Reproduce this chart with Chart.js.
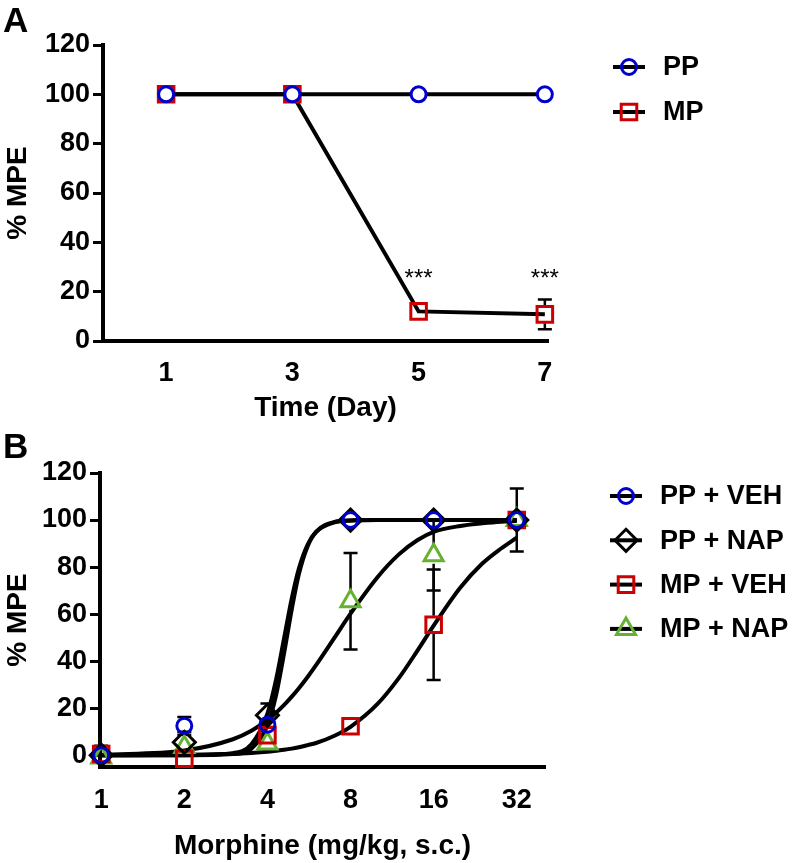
<!DOCTYPE html>
<html>
<head>
<meta charset="utf-8">
<script src="https://cdn.jsdelivr.net/npm/chart.js@4.4.0/dist/chart.umd.min.js"></script>
<style>
  body { margin: 0; background: #fff; }
  .panel { position: absolute; left: 0; width: 793px; }
</style>
</head>
<body>
<div class="panel" style="top:0;height:430px"><canvas id="chartA" width="793" height="430"></canvas></div>
<div class="panel" style="top:430px;height:433px"><canvas id="chartB" width="793" height="433"></canvas></div>
<script>
// Panel A: %MPE over days
const days = [1, 3, 5, 7];
const ppMpe = [100, 100, 100, 100];
const ppErr = [0, 0, 0, 0];
const mpMpe = [100, 100, 12, 10.8];
const mpErr = [0, 0, 0, 6];
const dayTicks = [1, 3, 5, 7];
const sigDays = [5, 7];

// Panel B: dose response
const doses = [1, 2, 4, 8, 16, 32];
const ppVeh = [0, 12.5, 13, 100, 100, 100];
const ppVehErr = [0, 3.8, 0, 0, 0, 0];
const ppNap = [0, 5.5, 17, 100, 100, 100];
const ppNapErr = [0, 4.5, 5, 0, 0, 0];
const mpVeh = [0.5, -1.5, 8.5, 12.3, 55.5, 100];
const mpVehErr = [3.5, 0, 0, 0, 23.5, 13.4];
const mpNap = [-1, 3.5, 5, 65.5, 85, 100];
const mpNapErr = [0, 0, 0, 20.5, 15, 0];
const doseTicks = [1, 2, 4, 8, 16, 32];

// fitted curves
const curveDose = [1, 2, 3, 3.5, 4, 4.3, 4.6, 4.9, 5.2, 5.6, 6, 7, 8, 10, 12, 14, 16, 20, 24, 28, 32];
const ppVehFit = [0, 0, 0.5, 2.8, 12.6, 25.6, 43.6, 62, 77, 89, 95, 99.2, 99.8, 100, 100, 100, 100, 100, 100, 100, 100];
const ppNapFit = [0, 0, 0.9, 4.7, 17.7, 32.2, 50, 66.7, 79.4, 89.7, 94.9, 99, 99.8, 100, 100, 100, 100, 100, 100, 100, 100];
const mpVehFit = [0, 0.2, 0.6, 1.0, 1.5, 1.9, 2.3, 2.8, 3.4, 4.3, 5.2, 8.3, 12.1, 21.7, 33, 44.6, 55.1, 71.3, 81.5, 87.8, 92.5];
const mpNapFit = [0.2, 2.0, 6.8, 10.4, 15, 18.1, 21.4, 24.9, 28.5, 33.4, 38.3, 50, 60.2, 75.6, 85.5, 91.5, 95, 97.5, 98.6, 99.3, 99.6];

const mpeTicks = [0, 20, 40, 60, 80, 100, 120];

const FONT = "'Liberation Sans', Arial, Helvetica, sans-serif";
const BLUE = '#0000cc', RED = '#cc0000', GREEN = '#66b032', BLACK = '#000';

Chart.defaults.font.family = FONT;
Chart.defaults.color = BLACK;
Chart.defaults.animation = false;

function pts(xs, ys) {
    return xs.map((x, i) => ({ x: x, y: ys[i] }));
}

function markerPath(ctx, style, x, y, r) {
    ctx.beginPath();
    if (style === 'circle') {
        ctx.arc(x, y, r, 0, Math.PI * 2);
    } else if (style === 'rect') {
        const s = r * Math.SQRT1_2;
        ctx.rect(x - s, y - s, 2 * s, 2 * s);
    } else if (style === 'rectRot') {
        ctx.moveTo(x - r, y); ctx.lineTo(x, y - r);
        ctx.lineTo(x + r, y); ctx.lineTo(x, y + r);
        ctx.closePath();
    } else if (style === 'triangle') {
        for (let k = 0; k < 3; k++) {
            const a = k * 2 * Math.PI / 3;
            const px = x + Math.sin(a) * r, py = y - Math.cos(a) * r;
            if (k === 0) ctx.moveTo(px, py); else ctx.lineTo(px, py);
        }
        ctx.closePath();
    }
}

// vertical SEM bars, stopped at the marker edge like GraphPad does
const errorBars = {
    id: 'errorBars',
    beforeDatasetsDraw(chart) {
        const ctx = chart.ctx, yScale = chart.scales.y;
        chart.data.datasets.forEach((ds, i) => {
            if (!ds.errors) return;
            const meta = chart.getDatasetMeta(i);
            ctx.save();
            ctx.strokeStyle = BLACK;
            ctx.lineWidth = 2.5;
            meta.data.forEach((pt, j) => {
                const e = ds.errors[j];
                if (!e) return;
                const v = ds.data[j].y;
                const top = yScale.getPixelForValue(v + e);
                const bot = yScale.getPixelForValue(v - e);
                const g = ds.errGap || 0;
                ctx.beginPath();
                if (top < pt.y - g) {
                    ctx.moveTo(pt.x, top); ctx.lineTo(pt.x, pt.y - g);
                }
                if (bot > pt.y + g) {
                    ctx.moveTo(pt.x, pt.y + g); ctx.lineTo(pt.x, bot);
                }
                ctx.moveTo(pt.x - 7, top); ctx.lineTo(pt.x + 7, top);
                ctx.moveTo(pt.x - 7, bot); ctx.lineTo(pt.x + 7, bot);
                ctx.stroke();
            });
            ctx.restore();
        });
    }
};

const sideLegend = {
    id: 'sideLegend',
    afterDraw(chart, args, opts) {
        const ctx = chart.ctx, area = chart.chartArea;
        let row = 0;
        chart.data.datasets.forEach(ds => {
            if (!ds.inLegend) return;
            const y = area.top + opts.top + row * opts.gap;
            const x0 = area.right + opts.lineStart;
            ctx.save();
            ctx.strokeStyle = BLACK;
            ctx.lineWidth = 4;
            ctx.beginPath();
            ctx.moveTo(x0, y); ctx.lineTo(x0 + 32, y);
            ctx.stroke();
            markerPath(ctx, ds.pointStyle, x0 + 16, y, ds.pointRadius);
            ctx.strokeStyle = ds.pointBorderColor;
            ctx.lineWidth = ds.pointBorderWidth;
            ctx.stroke();
            ctx.fillStyle = BLACK;
            ctx.font = 'bold 27px ' + FONT;
            ctx.textAlign = 'left';
            ctx.textBaseline = 'middle';
            ctx.fillText(ds.label, x0 + 50, y + 1);
            ctx.restore();
            row++;
        });
    }
};

const panelLabel = {
    id: 'panelLabel',
    afterDraw(chart, args, opts) {
        const ctx = chart.ctx;
        ctx.save();
        ctx.fillStyle = BLACK;
        ctx.font = 'bold 35px ' + FONT;
        ctx.textAlign = 'left';
        ctx.textBaseline = 'alphabetic';
        ctx.fillText(opts.text, 3, opts.baseline);
        ctx.restore();
    }
};

const stars = {
    id: 'stars',
    afterDatasetsDraw(chart, args, opts) {
        const ctx = chart.ctx;
        ctx.save();
        ctx.fillStyle = BLACK;
        ctx.font = '24px ' + FONT;
        ctx.textAlign = 'center';
        ctx.textBaseline = 'alphabetic';
        opts.at.forEach(d => {
            ctx.fillText(opts.text, chart.scales.x.getPixelForValue(d), chart.scales.y.getPixelForValue(opts.value));
        });
        ctx.restore();
    }
};

function yAxis(min, width) {
    return {
        type: 'linear',
        min: min,
        max: 120,
        afterBuildTicks: s => { s.ticks = mpeTicks.map(v => ({ value: v })); },
        afterFit: s => { s.width = width; },
        grid: { display: true, drawOnChartArea: false, drawTicks: true, tickLength: 10, tickWidth: 3, tickColor: BLACK },
        border: { display: true, width: 4, color: BLACK },
        ticks: { font: { size: 27, weight: 'bold' }, padding: 3, color: BLACK },
        title: { display: true, text: '% MPE', font: { size: 28, weight: 'bold' }, padding: { top: 1, bottom: 0 }, color: BLACK }
    };
}

function pointSet(label, xs, ys, errs, style, radius, color, fill, gap) {
    return {
        label: label,
        data: pts(xs, ys),
        errors: errs,
        errGap: gap,
        inLegend: true,
        showLine: false,
        pointStyle: style,
        pointRadius: radius,
        pointBorderWidth: 3,
        pointBorderColor: color,
        pointBackgroundColor: fill,
        clip: false
    };
}

function curveSet(ys) {
    return {
        data: pts(curveDose, ys),
        showLine: true,
        borderColor: BLACK,
        borderWidth: 4,
        pointRadius: 0,
        cubicInterpolationMode: 'monotone',
        borderJoinStyle: 'round',
        clip: false
    };
}

const ppA = pointSet('PP', days, ppMpe, ppErr, 'circle', 7.5, BLUE, '#fff', 9);
ppA.showLine = true; ppA.borderColor = BLACK; ppA.borderWidth = 4;
const mpA = pointSet('MP', days, mpMpe, mpErr, 'rect', 11, RED, 'rgba(0,0,0,0)', 9);
mpA.showLine = true; mpA.borderColor = BLACK; mpA.borderWidth = 4;

new Chart(document.getElementById('chartA'), {
    type: 'scatter',
    data: { datasets: [ppA, mpA] },
    plugins: [errorBars, sideLegend, panelLabel, stars],
    options: {
        responsive: false,
        events: [],
        layout: { padding: { left: 0, top: 45, right: 245, bottom: 0 } },
        scales: {
            x: {
                type: 'linear',
                min: 0,
                max: 7.05,
                afterBuildTicks: s => { s.ticks = dayTicks.map(v => ({ value: v })); },
                afterFit: s => { s.height = 89; },
                grid: { display: false },
                border: { display: true, width: 4, color: BLACK },
                ticks: { font: { size: 27, weight: 'bold' }, padding: 8, color: BLACK, autoSkip: false },
                title: { display: true, text: 'Time (Day)', font: { size: 28, weight: 'bold' }, padding: { top: 0, bottom: 5 }, color: BLACK }
            },
            y: yAxis(0, 103)
        },
        plugins: {
            legend: { display: false },
            tooltip: { enabled: false },
            sideLegend: { top: 22, gap: 45, lineStart: 65 },
            panelLabel: { text: 'A', baseline: 32 },
            stars: { at: sigDays, text: '***', value: 22.5 }
        }
    }
});

new Chart(document.getElementById('chartB'), {
    type: 'scatter',
    data: {
        datasets: [
            pointSet('PP + VEH', doses, ppVeh, ppVehErr, 'circle', 7.5, BLUE, 'rgba(0,0,0,0)', 9),
            pointSet('PP + NAP', doses, ppNap, ppNapErr, 'rectRot', 11, BLACK, 'rgba(0,0,0,0)', 10.5),
            pointSet('MP + VEH', doses, mpVeh, mpVehErr, 'rect', 11, RED, 'rgba(0,0,0,0)', 9),
            pointSet('MP + NAP', doses, mpNap, mpNapErr, 'triangle', 11, GREEN, 'rgba(0,0,0,0)', 8.5),
            curveSet(ppVehFit),
            curveSet(ppNapFit),
            curveSet(mpVehFit),
            curveSet(mpNapFit)
        ]
    },
    plugins: [errorBars, sideLegend, panelLabel],
    options: {
        responsive: false,
        events: [],
        layout: { padding: { left: 0, top: 43, right: 248, bottom: 0 } },
        scales: {
            x: {
                type: 'logarithmic',
                min: 0.99,
                max: 40.5,
                afterBuildTicks: s => { s.ticks = doseTicks.map(v => ({ value: v })); },
                afterFit: s => { s.height = 96; },
                grid: { display: false },
                border: { display: true, width: 4, color: BLACK },
                ticks: { font: { size: 27, weight: 'bold' }, padding: 9, color: BLACK, autoSkip: false, callback: v => String(v) },
                title: { display: true, text: 'Morphine (mg/kg, s.c.)', font: { size: 28, weight: 'bold' }, padding: { top: 0, bottom: 0 }, color: BLACK }
            },
            y: yAxis(-5, 100)
        },
        plugins: {
            legend: { display: false },
            tooltip: { enabled: false },
            sideLegend: { top: 23, gap: 44.3, lineStart: 65 },
            panelLabel: { text: 'B', baseline: 28 }
        }
    }
});
</script>
</body>
</html>
